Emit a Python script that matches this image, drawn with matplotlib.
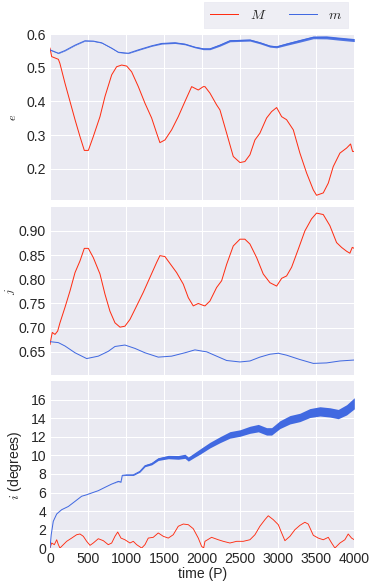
import numpy as np
import matplotlib
matplotlib.use("Agg")
import matplotlib.pyplot as plt

# ---------------- data ----------------
# Panel e : eccentricity
e_M_t = [0, 22, 110, 130, 197, 263, 329, 394, 451, 504, 569, 657, 723, 811, 876, 942, 1008,
         1073, 1161, 1248, 1336, 1402, 1445, 1511, 1599, 1686, 1774, 1862, 1949, 2015, 2037,
         2102, 2190, 2234, 2322, 2409, 2497, 2562, 2628, 2694, 2759, 2847, 2913, 2979, 3045,
         3110, 3198, 3285, 3373, 3461, 3504, 3592, 3658, 3723, 3811, 3899, 3951, 3977, 4000]
e_M = [0.558, 0.533, 0.525, 0.513, 0.454, 0.400, 0.346, 0.296, 0.255, 0.255, 0.296, 0.355,
       0.415, 0.479, 0.503, 0.508, 0.505, 0.488, 0.444, 0.395, 0.351, 0.306, 0.278, 0.286,
       0.316, 0.355, 0.400, 0.444, 0.434, 0.444, 0.444, 0.425, 0.390, 0.375, 0.306, 0.237,
       0.219, 0.222, 0.242, 0.286, 0.306, 0.351, 0.370, 0.382, 0.355, 0.346, 0.316, 0.247,
       0.188, 0.138, 0.122, 0.129, 0.158, 0.207, 0.247, 0.262, 0.274, 0.252, 0.252]

e_m_t = [0, 110, 197, 329, 460, 569, 679, 811, 898, 1029, 1161, 1336, 1468, 1643, 1774, 1905,
         2015, 2102, 2234, 2365, 2628, 2759, 2891, 2979, 3110, 3285, 3461, 3636, 3811, 4000]
e_m = [0.553, 0.543, 0.551, 0.567, 0.580, 0.579, 0.574, 0.558, 0.546, 0.543, 0.553, 0.565,
       0.572, 0.574, 0.570, 0.561, 0.556, 0.556, 0.567, 0.580, 0.582, 0.574, 0.564, 0.562,
       0.570, 0.580, 0.590, 0.590, 0.586, 0.582]
e_m_spread = [0.001, 0.001, 0.001, 0.001, 0.001, 0.001, 0.001, 0.001, 0.001, 0.001, 0.0015,
              0.0015, 0.002, 0.002, 0.002, 0.002, 0.0025, 0.0025, 0.003, 0.003, 0.003, 0.003,
              0.003, 0.003, 0.0035, 0.004, 0.004, 0.0045, 0.0045, 0.0045]

# Panel j : angular momentum
j_M_t = [0, 16, 30, 66, 101, 131, 197, 263, 329, 394, 451, 504, 569, 657, 723, 788, 854, 920,
         985, 1051, 1139, 1226, 1314, 1402, 1445, 1511, 1599, 1664, 1752, 1818, 1883, 1949,
         2015, 2037, 2102, 2190, 2256, 2322, 2409, 2497, 2562, 2628, 2716, 2803, 2891, 2979,
         3045, 3110, 3176, 3263, 3350, 3438, 3504, 3592, 3679, 3767, 3833, 3899, 3942, 3973, 4000]
j_M = [0.665, 0.679, 0.690, 0.686, 0.693, 0.710, 0.742, 0.776, 0.814, 0.838, 0.864, 0.864,
       0.845, 0.811, 0.769, 0.734, 0.710, 0.701, 0.703, 0.717, 0.745, 0.773, 0.804, 0.835,
       0.849, 0.847, 0.828, 0.814, 0.790, 0.762, 0.745, 0.750, 0.746, 0.745, 0.755, 0.783,
       0.797, 0.831, 0.869, 0.883, 0.883, 0.873, 0.845, 0.811, 0.793, 0.786, 0.802, 0.807,
       0.825, 0.862, 0.900, 0.925, 0.937, 0.934, 0.911, 0.876, 0.866, 0.858, 0.854, 0.866, 0.864]

j_m_t = [0, 110, 197, 329, 482, 635, 766, 854, 985, 1117, 1248, 1423, 1599, 1774, 1905, 2015,
         2059, 2190, 2322, 2497, 2628, 2759, 2891, 3001, 3110, 3285, 3461, 3636, 3811, 4000]
j_m = [0.671, 0.669, 0.662, 0.648, 0.636, 0.641, 0.651, 0.661, 0.664, 0.657, 0.648, 0.639,
       0.641, 0.648, 0.654, 0.651, 0.650, 0.641, 0.632, 0.629, 0.631, 0.639, 0.645, 0.647,
       0.643, 0.634, 0.626, 0.627, 0.631, 0.633]

# Panel i : inclination (degrees)
i_M_t = [0, 22, 57, 88, 110, 131, 175, 219, 285, 350, 394, 438, 482, 526, 569, 635, 701, 766,
         811, 854, 890, 933, 985, 1051, 1095, 1139, 1205, 1248, 1292, 1357, 1423, 1489, 1555,
         1620, 1686, 1752, 1818, 1883, 1949, 1993, 2020, 2037, 2124, 2212, 2278, 2365, 2453,
         2540, 2628, 2694, 2759, 2825, 2869, 2935, 3001, 3045, 3088, 3154, 3219, 3285, 3350,
         3394, 3461, 3526, 3592, 3658, 3702, 3745, 3811, 3876, 3920, 3964, 4000]
i_M = [0.03, 0.57, 0.39, 0.92, 0.39, 0.03, 0.39, 0.75, 1.10, 1.46, 1.54, 1.29, 0.75, 0.32,
       0.57, 1.03, 0.82, 0.39, 0.57, 1.29, 1.75, 1.10, 0.92, 0.57, 0.75, 0.39, 0.03, 0.39,
       1.10, 1.18, 1.65, 1.29, 1.10, 1.46, 2.37, 2.61, 2.54, 2.11, 1.10, 0.21, 0.03, 0.75,
       1.18, 0.92, 0.75, 0.57, 0.75, 0.75, 0.92, 1.46, 2.37, 3.08, 3.50, 3.08, 2.54, 1.65,
       0.82, 1.29, 2.00, 2.47, 2.80, 2.61, 1.40, 1.10, 0.92, 1.18, 0.57, 0.03, 0.57, 0.92,
       1.54, 1.10, 0.92]

i_m_t = [0, 16, 43, 88, 153, 241, 329, 416, 482, 547, 635, 723, 811, 898, 933, 950, 1008,
         1095, 1182, 1248, 1336, 1423, 1555, 1686, 1774, 1818, 1905, 1971, 2102, 2234, 2365,
         2497, 2628, 2738, 2847, 2913, 3022, 3154, 3285, 3416, 3548, 3679, 3789, 3899, 4000]
i_m = [0.03, 1.46, 2.90, 3.69, 4.15, 4.50, 5.05, 5.60, 5.76, 5.95, 6.20, 6.56, 6.91, 7.20,
       7.13, 7.85, 7.90, 7.90, 8.28, 8.88, 9.10, 9.60, 9.82, 9.78, 9.90, 9.60, 10.06, 10.40,
       11.10, 11.68, 12.20, 12.40, 12.75, 12.93, 12.58, 12.58, 13.30, 13.83, 14.08, 14.55,
       14.73, 14.62, 14.44, 14.90, 15.60]
i_m_spread = [0.0, 0.0, 0.0, 0.0, 0.0, 0.0, 0.0, 0.0, 0.0, 0.0, 0.0, 0.0, 0.0, 0.02, 0.02,
              0.04, 0.05, 0.06, 0.08, 0.1, 0.12, 0.15, 0.18, 0.2, 0.22, 0.22, 0.25, 0.28, 0.3,
              0.32, 0.35, 0.35, 0.38, 0.4, 0.4, 0.4, 0.42, 0.45, 0.45, 0.48, 0.5, 0.5, 0.5,
              0.55, 0.6]

x_ticks = [0, 500, 1000, 1500, 2000, 2500, 3000, 3500, 4000]
e_ticks = [0.2, 0.3, 0.4, 0.5, 0.6]
j_ticks = [0.65, 0.70, 0.75, 0.80, 0.85, 0.90]
i_ticks = [0, 2, 4, 6, 8, 10, 12, 14, 16]

RED = "#FF2D12"
BLUE = "#4169E1"
FS = 14

# ---------------- style ----------------
plt.rcParams.update({
    "font.family": ["Liberation Sans", "DejaVu Sans"],
    "mathtext.fontset": "cm",
    "font.size": FS,
    "axes.facecolor": "#EAEAF2",
    "axes.edgecolor": "white",
    "axes.grid": True,
    "grid.color": "white",
    "grid.linewidth": 1.0,
    "xtick.color": "#262626",
    "ytick.color": "#262626",
    "text.color": "#262626",
    "axes.labelcolor": "#262626",
})

W, H = 374, 585
fig = plt.figure(figsize=(W / 72, H / 72), dpi=72)

left = 50 / W
width = (354.3 - 50) / W

def rect(top_px, bot_px):
    return [left, 1 - bot_px / H, width, (bot_px - top_px) / H]

ax1 = fig.add_axes(rect(34, 200))
ax2 = fig.add_axes(rect(207.3, 375))
ax3 = fig.add_axes(rect(381, 548.3))

for ax in (ax1, ax2, ax3):
    ax.set_xlim(0, 4000)
    ax.set_xticks(x_ticks)
    ax.set_axisbelow(True)
    for s in ax.spines.values():
        s.set_visible(False)
    ax.tick_params(length=0, labelsize=FS, pad=4)

# e panel
ax1.plot(e_M_t, e_M, color=RED, lw=1.0, label="$M$")
ax1.fill_between(e_m_t, np.array(e_m) - np.array(e_m_spread), np.array(e_m) + np.array(e_m_spread),
                 color=BLUE, lw=0, alpha=0.9)
ax1.plot(e_m_t, e_m, color=BLUE, lw=1.0, label="$m$")
ax1.set_ylim(0.108, 0.6)
ax1.set_yticks(e_ticks)
ax1.set_yticklabels([f"{v:.1f}" for v in e_ticks])
ax1.set_xticklabels([])
ax1.set_ylabel("$e$", fontsize=12, labelpad=8)

# j panel
ax2.plot(j_M_t, j_M, color=RED, lw=1.0)
ax2.plot(j_m_t, j_m, color=BLUE, lw=1.0)
ax2.set_ylim(0.602, 0.949)
ax2.set_yticks(j_ticks)
ax2.set_yticklabels([f"{v:.2f}" for v in j_ticks])
ax2.set_xticklabels([])
ax2.set_ylabel("$j$", fontsize=12, labelpad=2)

# i panel
ax3.plot(i_M_t, i_M, color=RED, lw=0.9)
ax3.fill_between(i_m_t, np.array(i_m) - np.array(i_m_spread), np.array(i_m) + np.array(i_m_spread),
                 color=BLUE, lw=0)
ax3.plot(i_m_t, i_m, color=BLUE, lw=1.0)
ax3.set_ylim(0, 18)
ax3.set_yticks(i_ticks)
ax3.set_xticklabels([str(v) for v in x_ticks])
ax3.set_ylabel("$i$ (degrees)", fontsize=FS, labelpad=6)
ax3.set_xlabel("time (P)", fontsize=FS, labelpad=1)

h, l = ax1.get_legend_handles_labels()
leg = fig.legend(h, l, loc="upper right", bbox_to_anchor=(348 / W, 1 - 1.5 / H),
                 ncol=2, frameon=True, fontsize=FS, handlelength=2.0, columnspacing=1.6,
                 handletextpad=0.8, borderpad=0.45, borderaxespad=0, fancybox=False)
leg.get_frame().set_facecolor("#EAEAF2")
leg.get_frame().set_edgecolor("#EAEAF2")

fig.savefig("out.png", dpi=72)
